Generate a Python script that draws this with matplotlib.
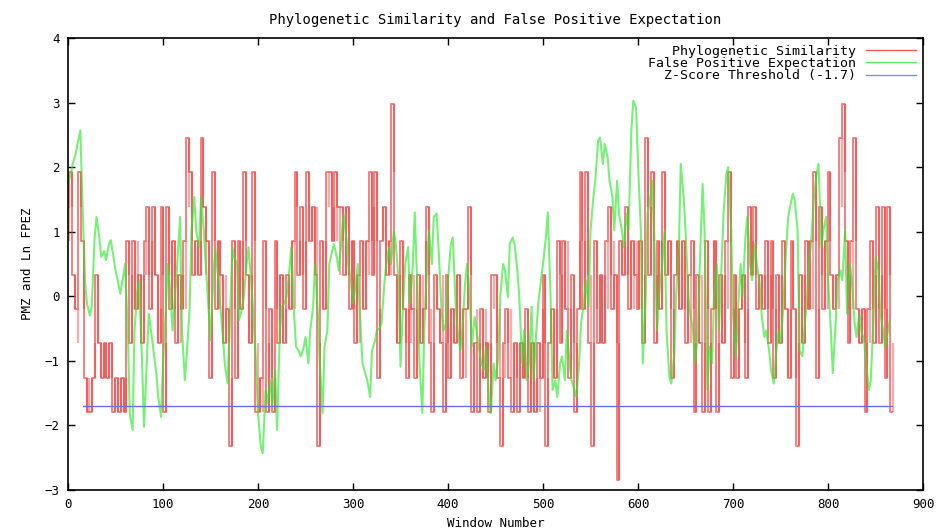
import numpy as np
import matplotlib
matplotlib.use("Agg")
import matplotlib.pyplot as plt

plt.rcParams['font.family'] = ['DejaVu Sans Mono']

# the PMZ series only takes a few discrete levels
pmz_levels = {-5: -2.85, -4: -2.32, -3: -1.79, -2: -1.26, -1: -0.73, 0: -0.2,
              1: 0.33, 2: 0.86, 3: 1.39, 4: 1.92, 5: 2.45, 6: 2.98}

# PMZ level index, read per block of 3 windows (0..867)
pmz_idx = [
    3, 4, 1, 0, 4, 2, -2, -3, -3, -2, 1, -1, -2, -1, -2, -1, -3, -2, -3, -2,
    -3, 2, -1, 2, 0, 1, -1, 2, 3, 0, 3, 1, -1, 3, -3, 3, 0, 2, -1, 1,
    0, 2, 5, 4, 1, 2, 1, 5, 3, 2, -2, 4, 0, 2, 1, -1, 0, -4, 2, -2,
    2, 0, 4, 1, -1, 4, -3, -3, -2, 2, -3, 0, -3, 2, -1, 1, -1, 1, 0, 2,
    4, 1, 3, 0, 4, 2, 3, 1, -4, 2, 0, 4, 4, 2, 4, 3, 3, 1, 3, 0,
    2, -1, 1, 2, 0, 2, 4, 1, 4, -2, 2, 3, 1, 2, 6, 1, -1, 2, 0, -2,
    1, 0, -2, 1, -1, 0, 3, -1, -3, 1, 0, -1, -3, 1, -2, 0, -1, 1, -2, 0,
    0, 3, -3, -1, -3, 0, -2, -1, -3, 1, 1, -2, -4, -1, 0, -2, -3, -1, -3, -1,
    -2, 0, -3, -1, -3, -1, -2, 1, -4, -1, 0, -2, 2, -1, 2, 0, -2, 1, -3, 0,
    4, 0, 4, -1, -4, 2, -1, 1, -1, 2, 3, 0, 1, -5, 2, 1, 3, 0, 2, 1,
    0, 2, -1, 5, 1, 4, -1, 2, 0, 4, 1, 2, -2, 1, 2, 0, 2, -1, 1, 2,
    -3, 1, -1, -3, 2, -3, 0, 2, -3, 1, -1, 2, 4, -2, 1, -2, 0, 1, -2, 3,
    1, 3, 0, 1, 0, 2, -1, 2, -2, 1, -1, 2, 0, -2, 2, 0, -4, 1, -1, 2,
    0, 2, 4, -2, 3, 0, 2, 4, 1, 0, 1, 5, 6, 2, -1, 2, 5, 0, -1, 0,
    -3, 0, 2, -1, 3, -1, 3, -2, 3, -3,
]
# level the series flicks to inside each block
pmz_alt = [
    2, 3, 0, -1, 3, 0, -3, -2, -2, -1, -1, -2, -1, -2, -1, -2, -2, -3, -2, -3,
    -2, 1, 1, 0, 2, -1, 1, 1, 1, 2, 1, -1, 0, 1, -1, 1, 2, 0, 1, -1,
    1, 0, 3, 2, 2, 1, 2, 3, 1, 0, 0, 2, 2, 0, -1, 1, -1, -2, 0, 0,
    0, 2, 2, -1, 1, 2, -1, -2, -3, 0, -1, -2, -2, 0, 1, -1, 0, 0, 2, 0,
    3, 2, 1, 2, 2, 3, 1, 3, -1, 0, 2, 3, 2, 3, 2, 1, 2, 3, 1, 2,
    0, 1, -1, 0, 2, 1, 2, 3, 2, 0, 3, 1, 2, 1, 4, -1, 1, 0, -1, 0,
    -1, 1, 0, -1, 1, 2, 1, 0, -1, 0, -1, 1, -1, -1, 0, -1, 1, -1, 0, -2,
    1, 1, -1, 0, -1, -2, 0, -2, -1, 0, -1, 0, -2, -2, -1, 0, -1, -2, -1, -2,
    -1, -2, -1, -3, -2, -3, 0, -1, -2, 0, -2, 0, 1, 1, 0, 2, 0, -1, -1, 2,
    2, 2, 1, 1, -1, 0, 1, -1, 1, 0, 1, 2, -1, -1, 1, 2, 1, 2, 0, 2,
    2, 0, 1, 3, 3, 2, 1, 0, 2, 2, 2, 0, 0, 2, 0, 2, 0, 1, -1, 0,
    -1, -1, 1, -1, 0, -1, 2, 0, -1, -1, 1, 0, 2, 0, -1, 0, 1, -1, 0, 1,
    2, 1, 1, 0, 1, 0, 1, 0, 0, -1, 1, 0, -2, 0, 0, -2, -1, -1, 1, 0,
    2, 0, 2, 0, 1, 2, 0, 2, 0, 1, 0, 3, 4, 0, 1, 0, 2, -1, 0, -1,
    -1, -1, 0, 1, 0, 1, 0, 0, 1, -1,
]

# Ln FPEZ values at windows 0, 3, 5, 8, 10, 13, ... 865
fpez = [
    1.74, 1.9, 2.05, 2.2, 2.36, 2.57, 1.54, 0.2, -0.11, -0.3, -0.16, 0.9, 1.23, 0.9, 0.61, 0.7, 0.56, 0.8, 0.87, 0.6,
    0.4, 0.2, 0.04, 0.3, 0.5, -0.53, -1.81, -2.07, -0.53, 0.1, 0.25, -1.04, -2.02, -1.0, -0.27, -0.6, -0.84, -1.2, -1.56, -1.87,
    -1.04, -0.2, 0.5, 0.0, -0.53, 0.1, 0.5, 1.23, -0.53, -1.3, -0.9, -0.2, 1.02, 1.54, 1.0, 0.76, 1.54, 1.0, 0.5, -0.2,
    -0.68, 0.3, 0.76, 0.3, -0.11, -0.6, -1.04, -1.35, -0.53, 0.76, 0.6, 0.5, -0.37, -0.2, -0.01, 0.5, 0.76, 0.2, -0.27, -1.04,
    -1.81, -2.33, -2.43, -1.45, -1.66, -1.3, -1.71, -1.14, -2.07, -0.53, -0.16, -0.1, -0.01, 0.4, 0.76, -0.27, -0.78, -0.85, -0.93, -0.8,
    -0.63, -1.04, -0.53, -0.16, 0.5, -0.27, -1.04, -1.81, -0.78, -0.53, 0.5, 0.7, 0.81, 0.6, 0.4, 0.9, 1.28, 0.9, 0.5, 0.2,
    -0.11, 0.2, 0.5, -0.5, -1.04, -1.2, -1.3, -1.56, -0.84, -0.7, -0.53, -0.5, -0.42, 0.2, 0.5, 0.76, 0.5, 1.02, 0.81, 0.25,
    -1.09, -0.01, 0.5, 0.76, -0.11, 0.5, 1.3, -0.01, -1.04, -1.81, -0.53, 0.5, 1.02, 0.5, 1.23, 1.28, 0.76, -0.16, -0.53, -0.42,
    0.25, 0.81, 0.91, -0.11, -0.53, -0.84, -0.53, 0.2, 0.5, -0.01, -0.78, -0.32, -0.53, -0.84, -1.04, -1.14, -0.78, -1.56, -1.81, -1.04,
    -1.3, -0.93, -0.01, 0.5, 0.4, -0.01, 0.81, 0.91, 0.81, 0.4, -0.01, -1.04, -0.53, -1.3, -1.04, -0.16, -1.3, -0.53, -0.11, 0.25,
    0.5, 0.91, 1.3, -0.01, -1.45, -1.3, -1.56, -1.04, -0.93, -1.3, -0.53, -1.04, -1.3, -1.45, -1.56, -1.04, -0.42, -0.11, 0.25, -0.16,
    1.02, 1.54, 1.79, 2.41, 2.46, 2.05, 2.36, 2.15, 1.79, 1.54, 1.02, 1.79, 1.28, 1.02, 0.76, 1.28, 1.02, 2.57, 3.03, 2.92,
    2.05, 1.02, -1.04, -0.01, 1.28, 1.54, 1.79, 0.5, -0.53, 0.2, 0.4, 1.02, -0.53, -1.25, -1.35, -0.93, -0.01, 0.76, 2.05, 1.54,
    1.02, -0.01, -0.27, -0.53, -1.04, -0.53, 0.5, 1.74, 1.02, -1.45, -0.78, -1.04, -0.01, 0.5, -0.53, 0.5, 1.28, 1.9, 2.0, 1.02,
    -0.27, -0.93, -0.27, 0.5, -0.01, 0.91, 1.23, 0.5, 0.25, 0.81, 0.5, 0.2, -0.27, -0.63, -0.53, -0.84, -1.14, -1.35, -0.93, -0.53,
    -0.73, -0.16, 0.5, 1.23, 1.38, 1.59, 1.48, 1.02, -0.84, -0.93, -0.53, 0.0, 0.5, 1.0, 1.5, 1.9, 2.05, 0.76, 1.02, 1.23,
    0.25, -0.53, -1.19, -0.42, 0.25, 0.4, 0.25, 1.02, -0.27, 0.5, 0.25, -0.42, -0.63, -0.27, -0.53, -0.68, -1.04, -1.45, -1.3, -0.27,
    0.61, 0.4, -0.27, -0.53, -0.78, -0.53, -0.37,
]

threshold = -1.7
threshold_span = [16, 867]

pmz_x = np.arange(0, 868, 3)
pmz = [pmz_levels[k] for k in pmz_idx]
pmz_flick = [pmz_levels[k] for k in pmz_alt]
fpez_x = [w for w in range(866) if w % 5 in (0, 3)]

fig = plt.figure(figsize=(9.47, 5.31), dpi=100)
ax = fig.add_axes([0.0718, 0.0772, 0.9029, 0.8512])

red = '#f02c2c'
ax.plot(pmz_x, pmz, color=red, lw=1.4, alpha=0.6, drawstyle='steps-mid',
        label='Phylogenetic Similarity')
# the quick flicks inside each block show up as thin vertical strokes
ax.vlines(pmz_x + 1.5, pmz, pmz_flick, color=red, lw=1.6, alpha=0.4)
ax.plot(fpez_x, fpez, color='#2fe82f', lw=1.5, alpha=0.65,
        label='False Positive Expectation')
ax.plot(threshold_span, [threshold, threshold], color='#6b6be8', lw=1.0,
        label='Z-Score Threshold (-1.7)')

ax.set_xlim(0, 900)
ax.set_ylim(-3, 4)
ax.set_xticks(range(0, 901, 100))
ax.set_yticks(range(-3, 5))
ax.tick_params(direction='in', top=True, right=True, length=5, width=1,
               labelsize=9, pad=6)
for s in ax.spines.values():
    s.set_linewidth(1.2)

ax.set_title('Phylogenetic Similarity and False Positive Expectation',
             fontsize=10, pad=10)
ax.set_xlabel('Window Number', fontsize=9, labelpad=4)
ax.set_ylabel('PMZ and Ln FPEZ', fontsize=9, labelpad=8)

leg = ax.legend(loc='upper right', frameon=False, markerfirst=False, fontsize=9.5,
                handlelength=3.8, labelspacing=-0.05, borderaxespad=0.2,
                borderpad=0.3, handletextpad=0.8)
for h in leg.get_lines():
    h.set_linewidth(1.0)
    h.set_alpha(0.8)

fig.savefig('out.png', dpi=100)
